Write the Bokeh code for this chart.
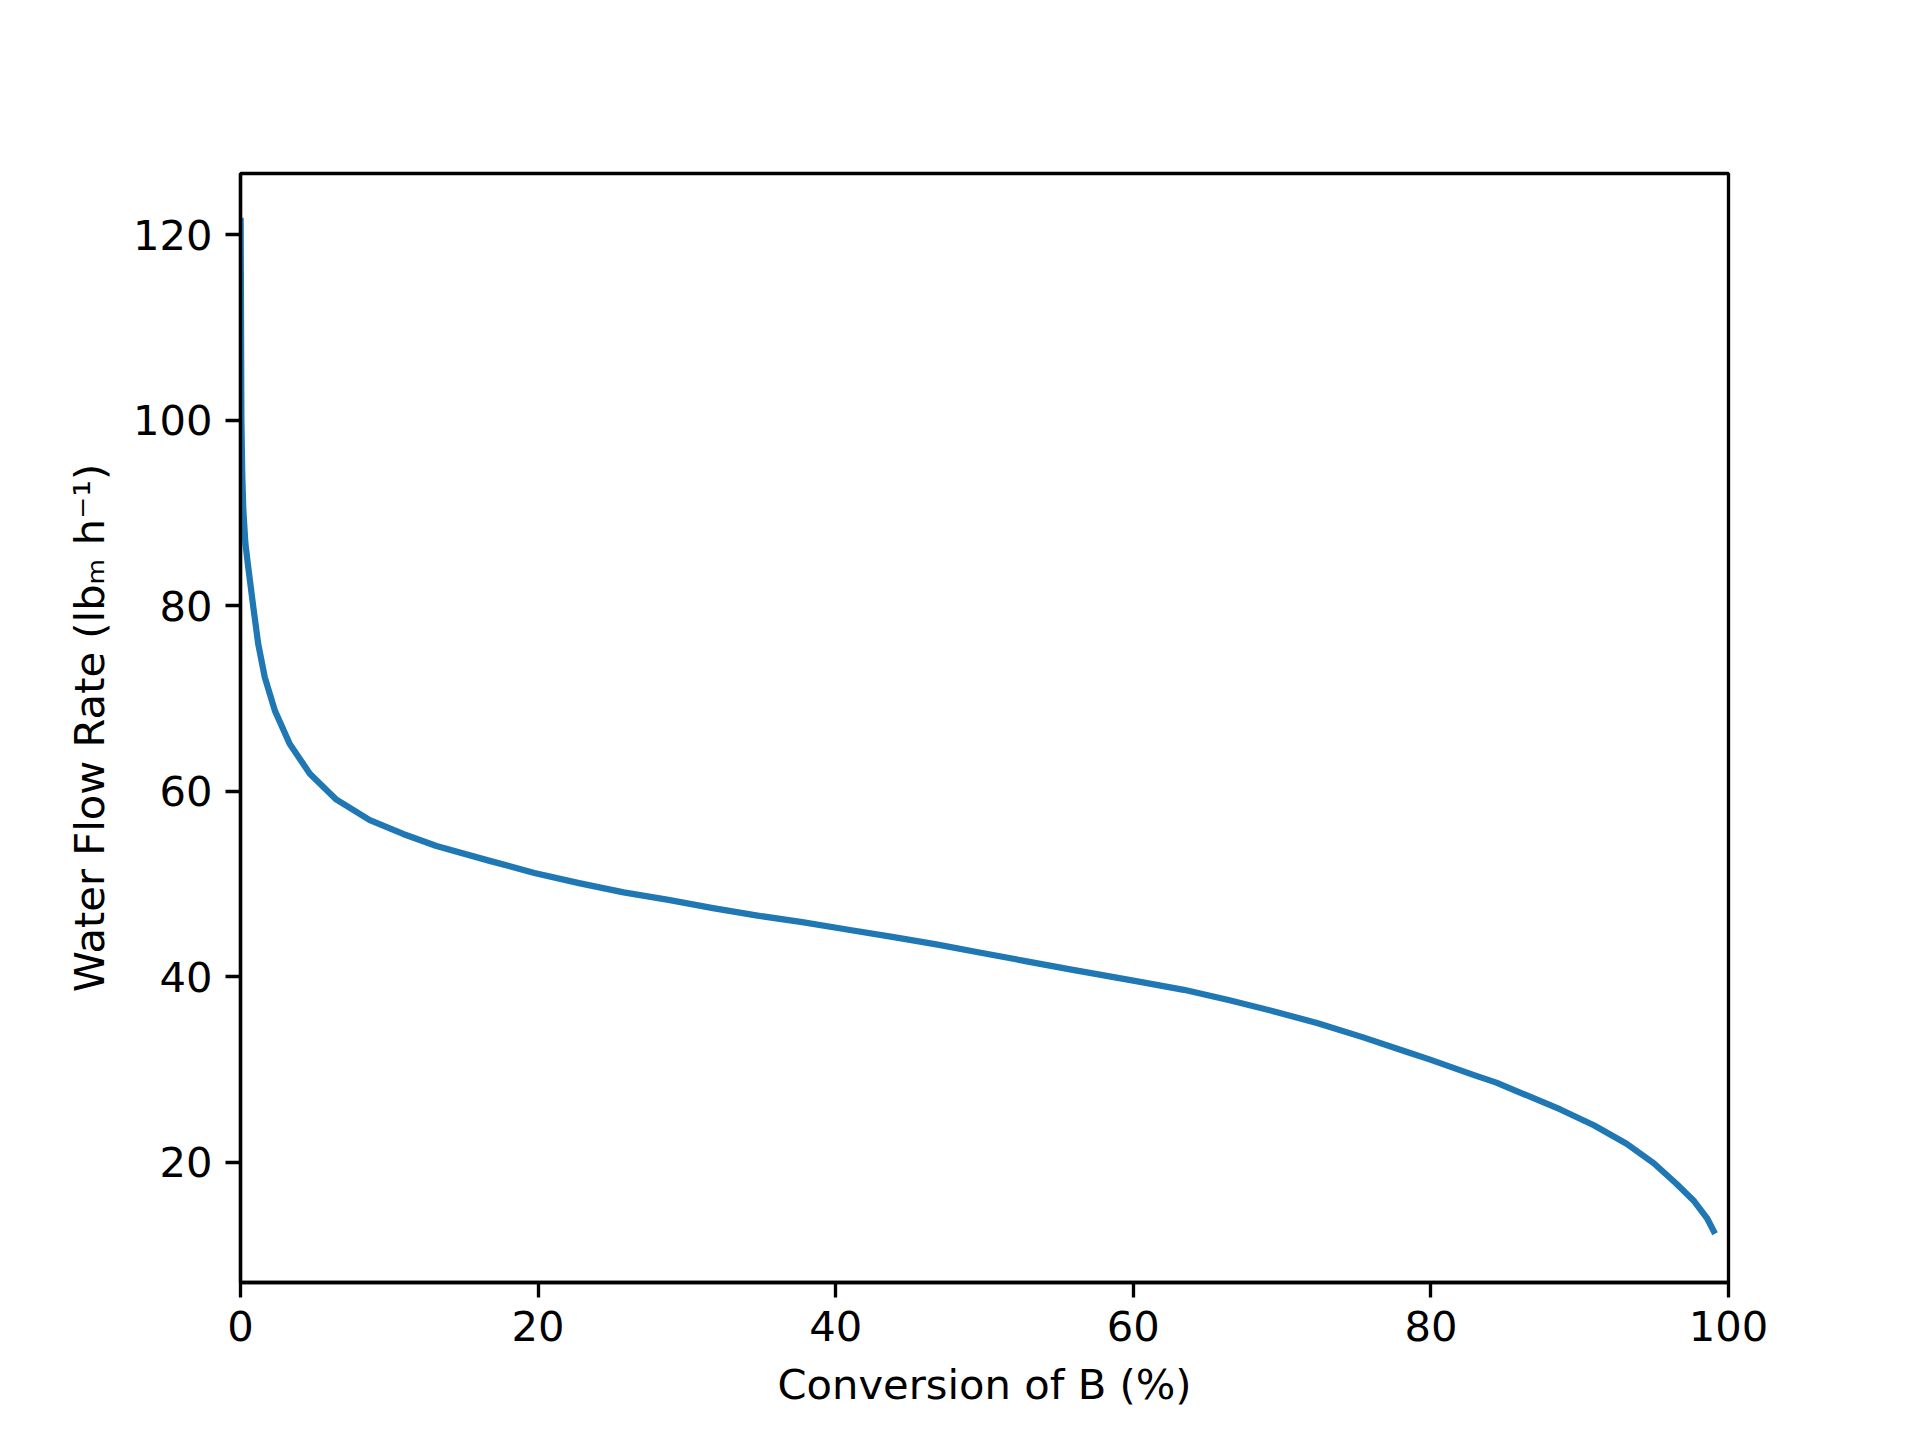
from bokeh.plotting import figure
from bokeh.models import FixedTicker, Range1d
from bokeh.embed import file_html
from bokeh.resources import INLINE

# Data
conversion_pct = [0.01, 0.06, 0.12, 0.19, 0.33, 0.51, 0.85, 1.19, 1.63, 2.31, 3.31,
                  4.66, 6.45, 8.69, 10.93, 13.17, 16.75, 19.75, 22.75, 25.75, 28.76,
                  31.75, 34.75, 37.75, 40.75, 43.8, 46.76, 49.75, 52.75, 55.75, 60.0,
                  63.4, 66.4, 69.4, 72.4, 75.4, 78.4, 79.9, 82.9, 84.4, 88.7, 90.95,
                  93.15, 94.98, 96.5, 97.7, 98.55, 99.0]
water_flow = [121.5, 100.0, 94.0, 90.3, 86.7, 84.3, 80.0, 75.9, 72.3, 68.7, 65.1,
              61.9, 59.1, 56.9, 55.4, 54.1, 52.5, 51.2, 50.1, 49.1, 48.3,
              47.4, 46.6, 45.9, 45.1, 44.3, 43.5, 42.6, 41.7, 40.8, 39.6,
              38.6, 37.5, 36.3, 35.0, 33.5, 31.9, 31.1, 29.4, 28.6, 25.7, 24.0,
              22.0, 19.9, 17.7, 15.8, 14.0, 12.6]

x_ticks = [0, 20, 40, 60, 80, 100]
y_ticks = [20, 40, 60, 80, 100, 120]

x_label = "Conversion of B (%)"
y_label = "Water Flow Rate (lb\u2098 h\u207b\u00b9)"

FONT = "DejaVu Sans"
FS = "41.67px"
LW = 3.33

p = figure(width=1912, height=1432, output_backend="svg", toolbar_location=None,
           x_range=Range1d(0, 100), y_range=Range1d(7.05, 126.6),
           min_border_left=240, min_border_right=184,
           min_border_top=173, min_border_bottom=150)

p.background_fill_color = "white"
p.border_fill_color = "white"
p.outline_line_color = "black"
p.outline_line_width = LW
p.grid.visible = False

p.line(conversion_pct, water_flow, line_color="#1f77b4", line_width=6.25,
       line_cap="square", line_join="round")

for ax in (p.xaxis[0], p.yaxis[0]):
    ax.axis_line_width = LW
    ax.axis_line_color = "black"
    ax.major_tick_line_width = LW
    ax.major_tick_line_color = "black"
    ax.major_tick_out = 15
    ax.major_tick_in = 0
    ax.minor_tick_line_color = None
    ax.major_label_text_font = FONT
    ax.major_label_text_font_size = FS
    ax.major_label_text_color = "black"
    ax.axis_label_text_font = FONT
    ax.axis_label_text_font_size = FS
    ax.axis_label_text_font_style = "normal"
    ax.axis_label_text_color = "black"
    ax.major_label_standoff = 13

p.xaxis[0].ticker = FixedTicker(ticks=x_ticks)
p.yaxis[0].ticker = FixedTicker(ticks=y_ticks)
p.xaxis[0].axis_label = x_label
p.yaxis[0].axis_label = y_label
p.xaxis[0].axis_label_standoff = 16
p.yaxis[0].axis_label_standoff = 16

open("out.html", "w").write(file_html(p, INLINE))
